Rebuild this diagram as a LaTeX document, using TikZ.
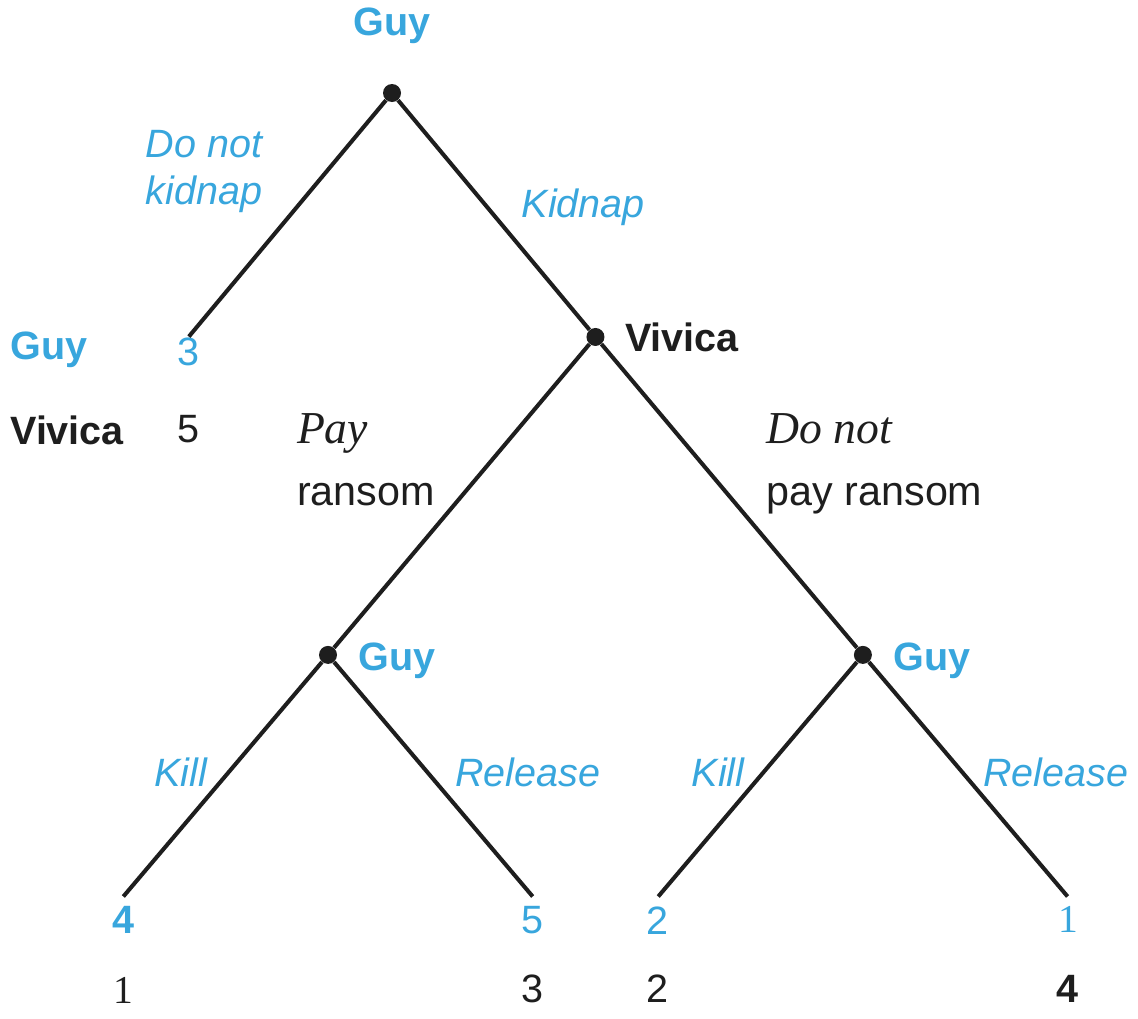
\documentclass[tikz,border=0pt]{standalone}
\usepackage{fontspec}
\setmainfont{Liberation Sans}
\newfontfamily\timesfont{Liberation Serif}
\usetikzlibrary{trees}
\definecolor{guyblue}{RGB}{56,166,221}
\definecolor{ink}{RGB}{30,30,30}

\begin{document}
\begin{tikzpicture}[x=0.02cm, y=-0.02cm, text=ink,
		font=\fontsize{22.5}{27}\selectfont,
		dot/.style={circle, fill=ink, inner sep=0pt, minimum size=0.36cm},
		tip/.style={inner sep=0pt, minimum size=0pt},
		player/.style={text=guyblue, font=\fontsize{22.5}{27}\selectfont\bfseries, inner sep=0pt},
		mover/.style={text=ink, font=\fontsize{22.5}{27}\selectfont\bfseries, inner sep=0pt},
		move/.style={text=guyblue, font=\fontsize{22.5}{27}\selectfont\itshape, inner sep=0pt},
		vmove/.style={text=ink, font=\fontsize{23.5}{35}\selectfont, inner sep=0pt, align=left},
		guypay/.style={text=guyblue, inner sep=0pt, label distance=0.18cm},
		vivpay/.style={text=ink, inner sep=0pt, label distance=1.55cm},
		level 1/.style={level distance=4.88cm, sibling distance=8.14cm},
		level 2/.style={level distance=6.36cm, sibling distance=10.7cm},
		level 3/.style={level distance=4.84cm, sibling distance=8.2cm},
		edge from parent/.style={draw=ink, line width=2.3pt}]
	\useasboundingbox (0,0) rectangle (1138,1018);
	\node[player, anchor=west] (guyrow) at (10,350) {Guy};
	\node[mover, anchor=west] (vivrow) at (10,430) {Vivica};
	\node[dot, label={[player, label distance=0.8cm]above:Guy}] (root) at (392,93) {}
		child { node[tip, label={[guypay, label distance=0cm]below:3}, label={[vivpay, label distance=1.56cm]below:5}] (nokid) {}
			edge from parent node[move, align=left, anchor=east, xshift=-0.46cm, yshift=0.94cm] {Do not\\kidnap}
		}
		child { node[dot, label={[mover, label distance=0.4cm]right:Vivica}] (vivica) {}
			child { node[dot, label={[player, label distance=0.42cm, yshift=-0.12cm]right:Guy}] (guyL) {}
				child { node[tip, label={[guypay, font=\fontsize{22.5}{27}\selectfont\bfseries]below:4}, label={[vivpay, label distance=1.6cm, font=\fontsize{22.5}{27}\selectfont\timesfont]below:1}] (killL) {}
					edge from parent node[move, anchor=east, xshift=-0.27cm, yshift=0.14cm] {Kill}
				}
				child { node[tip, label={[guypay]below:5}, label={[vivpay]below:3}] (freeL) {}
					edge from parent node[move, anchor=west, xshift=0.40cm, yshift=0.14cm] {Release}
				}
				edge from parent node[vmove, anchor=east, xshift=-0.5cm, yshift=0.72cm] {{\fontsize{26}{35}\selectfont\timesfont\itshape Pay}\\ransom}
			}
			child { node[dot, label={[player, label distance=0.42cm, yshift=-0.12cm]right:Guy}] (guyR) {}
				child { node[tip, label={[guypay]below:2}, label={[vivpay]below:2}] (killR) {}
					edge from parent node[move, anchor=east, xshift=-0.22cm, yshift=0.14cm] {Kill}
				}
				child { node[tip, label={[guypay, font=\fontsize{22.5}{27}\selectfont\timesfont]below:1}, label={[vivpay, font=\fontsize{22.5}{27}\selectfont\bfseries]below:4}] (freeR) {}
					edge from parent node[move, anchor=west, xshift=0.26cm, yshift=0.14cm] {Release}
				}
				edge from parent node[vmove, anchor=west, xshift=0.71cm, yshift=0.64cm] {{\fontsize{26}{35}\selectfont\timesfont\itshape Do not}\\pay ransom}
			}
			edge from parent node[move, anchor=west, xshift=0.52cm, yshift=0.16cm] {Kidnap}
		};
\end{tikzpicture}
\end{document}
